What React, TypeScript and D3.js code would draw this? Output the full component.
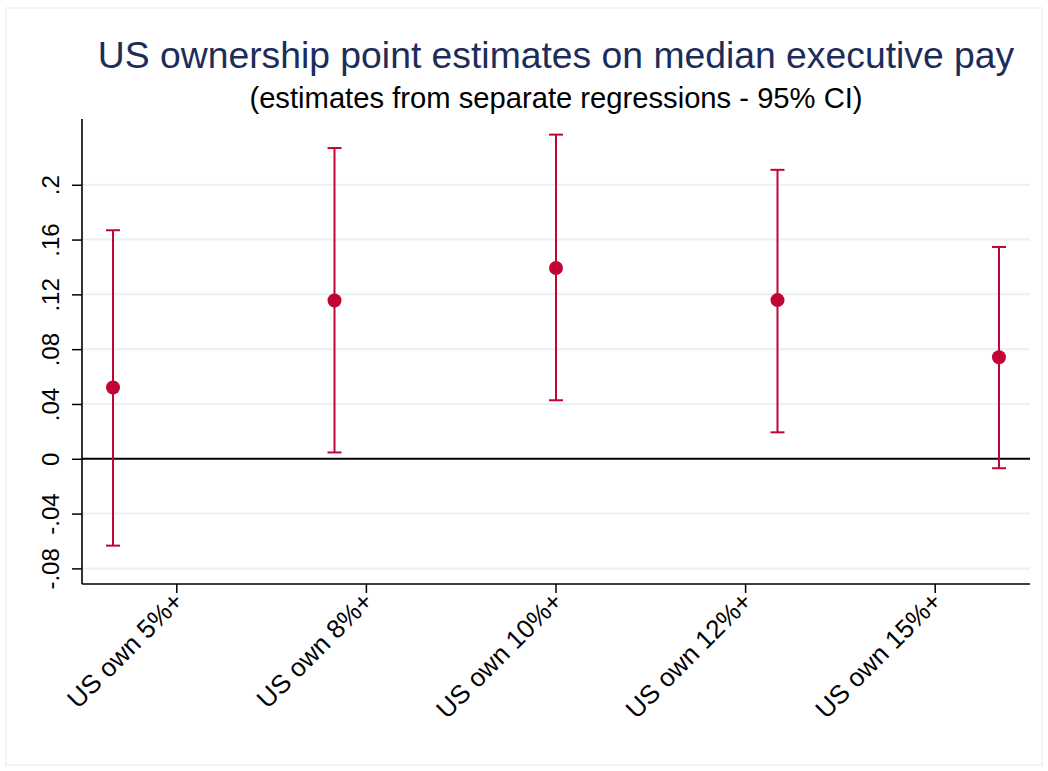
import React, { useEffect, useRef } from 'react';
import { select, scaleLinear, scaleBand, scalePoint, axisLeft, axisBottom } from 'd3';

const categories = ['US own 5%+', 'US own 8%+', 'US own 10%+', 'US own 12%+', 'US own 15%+'];
const estimates = [0.052, 0.1155, 0.1393, 0.1158, 0.0741];
const lower = [-0.0634, 0.0046, 0.0427, 0.0193, -0.0069];
const upper = [0.1668, 0.2268, 0.2366, 0.2109, 0.1546];
const yTicks = [-0.08, -0.04, 0, 0.04, 0.08, 0.12, 0.16, 0.2];

const W = 1048;
const H = 771;
const FONT = '"Liberation Sans", Arial, sans-serif';
const RED = '#c10534';

// stata style: .2 instead of 0.2
const fmt = (v: number) => {
  if (v === 0) return '0';
  return (+v.toFixed(2)).toString().replace('0.', '.');
};

function App() {
  const svgRef = useRef<SVGSVGElement>(null);

  useEffect(() => {
    const svg = select(svgRef.current);
    svg.selectAll('*').remove();

    const left = 82, right = 1030, top = 119, bottom = 584;

    const y = scaleLinear().domain([-0.0914, 0.248]).range([bottom, top]);
    const xTick = scaleBand().domain(categories).range([left, right]).padding(0);
    const xPt = scalePoint().domain(categories).range([left, right]).padding(0.14);

    // outer frame
    svg.append('rect')
      .attr('x', 6).attr('y', 8).attr('width', 1036).attr('height', 757)
      .attr('fill', 'white').attr('stroke', '#edf2f5').attr('stroke-width', 1.5);

    // title
    svg.append('text')
      .attr('x', (left + right) / 2).attr('y', 68)
      .attr('text-anchor', 'middle')
      .attr('font-family', FONT).attr('font-size', 37.3)
      .attr('fill', '#1c2d5a')
      .text('US ownership point estimates on median executive pay');
    svg.append('text')
      .attr('x', (left + right) / 2).attr('y', 108)
      .attr('text-anchor', 'middle')
      .attr('font-family', FONT).attr('font-size', 29.2)
      .attr('fill', '#000')
      .text('(estimates from separate regressions - 95% CI)');

    // grid
    svg.append('g')
      .selectAll('line')
      .data(yTicks.filter(d => d !== 0))
      .join('line')
      .attr('x1', left).attr('x2', right)
      .attr('y1', d => y(d)).attr('y2', d => y(d))
      .attr('stroke', '#e9f1f3').attr('stroke-width', 2);

    // zero line
    svg.append('line')
      .attr('x1', left).attr('x2', right)
      .attr('y1', y(0)).attr('y2', y(0))
      .attr('stroke', '#000').attr('stroke-width', 2);

    // y axis
    const yAxis = axisLeft(y).tickValues(yTicks).tickSize(10).tickSizeOuter(0).tickFormat(d => fmt(+d));
    const gy = svg.append('g').attr('transform', `translate(${left},0)`).call(yAxis);
    gy.select('.domain').attr('d', `M0,${top}V${bottom}`).attr('stroke', '#000').attr('stroke-width', 1.6);
    gy.selectAll('.tick line').attr('stroke', '#000').attr('stroke-width', 1.5);
    gy.selectAll('.tick text')
      .attr('x', null).attr('dy', null)
      .attr('transform', 'translate(-23,0) rotate(-90)')
      .attr('text-anchor', 'middle')
      .attr('font-family', FONT).attr('font-size', 24).attr('fill', '#000');

    // x axis
    const xAxis = axisBottom(xTick).tickSize(9).tickSizeOuter(0);
    const gx = svg.append('g').attr('transform', `translate(0,${bottom})`).call(xAxis);
    gx.select('.domain').attr('d', `M${left},0H${right}`).attr('stroke', '#000').attr('stroke-width', 1.6);
    gx.selectAll('.tick line').attr('stroke', '#000').attr('stroke-width', 1.5);
    gx.selectAll('.tick text')
      .attr('y', null).attr('dy', null)
      .attr('transform', 'translate(8,19) rotate(-45)')
      .attr('text-anchor', 'end')
      .attr('font-family', FONT).attr('font-size', 26).attr('fill', '#000');

    // CI spikes
    const rows = categories.map((c, i) => ({ c, est: estimates[i], lo: lower[i], hi: upper[i] }));
    const g = svg.append('g');
    g.selectAll('.ci')
      .data(rows)
      .join('line')
      .attr('class', 'ci')
      .attr('x1', d => xPt(d.c)).attr('x2', d => xPt(d.c))
      .attr('y1', d => y(d.lo)).attr('y2', d => y(d.hi))
      .attr('stroke', RED).attr('stroke-width', 2);
    g.selectAll('.cap')
      .data(rows.flatMap(d => [{ c: d.c, v: d.lo }, { c: d.c, v: d.hi }]))
      .join('line')
      .attr('class', 'cap')
      .attr('x1', d => xPt(d.c) - 7).attr('x2', d => xPt(d.c) + 7)
      .attr('y1', d => y(d.v)).attr('y2', d => y(d.v))
      .attr('stroke', RED).attr('stroke-width', 2);
    g.selectAll('circle')
      .data(rows)
      .join('circle')
      .attr('cx', d => xPt(d.c)).attr('cy', d => y(d.est))
      .attr('r', 7)
      .attr('fill', RED);
  }, []);

  return (
    <svg ref={svgRef} width={W} height={H} style={{ position: 'absolute', left: 0, top: 0, background: '#fff' }} />
  );
}

export default App;
